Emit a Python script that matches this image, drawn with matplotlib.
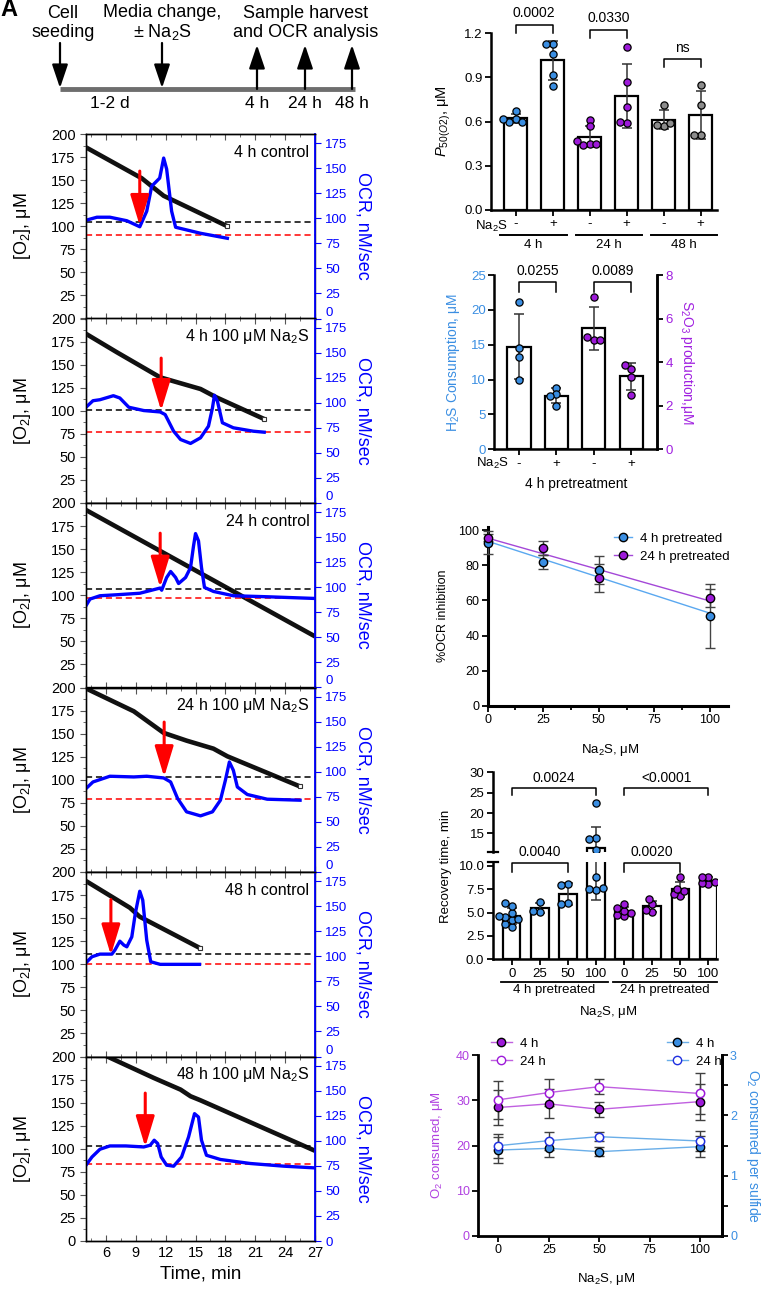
import numpy as np
import matplotlib.pyplot as plt
from matplotlib.lines import Line2D

plt.rcParams['font.family'] = ['Liberation Sans', 'DejaVu Sans']
plt.rcParams['mathtext.fontset'] = 'custom'
plt.rcParams['mathtext.rm'] = 'Liberation Sans'
plt.rcParams['mathtext.it'] = 'Liberation Sans:italic'
plt.rcParams['mathtext.default'] = 'regular'

W, H = 770, 1291
BLUE = '#3a8ee2'
PURPLE = '#9d1ad9'
GREY = '#8c8c8c'

# ---------------- left column: O2 / OCR traces ----------------
# time (min), [O2] (uM) and OCR (nM/sec)
c4_o2_t = [4, 9.6, 11.8, 18.2]
c4_o2 = [185.5, 152, 133, 100]
c4_ocr_t = [4, 5.1, 6.4, 8.1, 9.4, 10.1, 10.6, 10.9, 11.4, 11.8, 12.1, 12.6, 13.0, 15.5, 18.2]
c4_ocr = [98, 101, 101, 97.5, 91.5, 107, 132, 135, 140, 160, 149, 107, 91, 85, 80]

n4_o2_t = [4, 7.1, 11.45, 15.5, 17.1, 21.9]
n4_o2 = [183.4, 163.4, 136.2, 123.6, 114.5, 91]
n4_ocr_t = [4, 4.7, 5.4, 6.75, 7.4, 8.3, 9.8, 11.45, 11.95, 12.8, 13.5, 14.5, 15.5, 16.3,
            16.7, 16.9, 17.2, 17.7, 18.8, 20.8, 21.9]
n4_ocr = [95.5, 102, 103, 107, 104.7, 95.5, 92.2, 90.8, 88.2, 71.6, 63.3, 59.4, 65, 76.6,
          94.8, 107.4, 101.5, 80, 75, 71.6, 70.6]

c24_o2_t = [4, 27]
c24_o2 = [192.4, 55.4]
c24_ocr_t = [4, 4.4, 5.4, 7.1, 9.4, 11.45, 11.6, 12.1, 12.5, 13.0, 13.3, 14.0, 14.5, 14.8,
             15.0, 15.3, 15.6, 15.9, 16.8, 18.8, 22.2, 27]
c24_ocr = [81.6, 88.2, 91.5, 92.5, 94, 99.2, 97, 109.7, 115.7, 109.7, 103.7, 109.7, 119.6, 141.2,
           153.5, 146.2, 119.6, 99.8, 95.8, 91.5, 90.5, 88.8]

n24_o2_t = [4, 8.8, 11.8, 14.1, 16.8, 18.2, 25.5]
n24_o2 = [199, 174.2, 150.8, 142.4, 133.7, 125.4, 92.7]
n24_ocr_t = [4, 4.7, 6.4, 8.8, 10.1, 11.8, 12.5, 13.2, 14.1, 15.5, 16.7, 17.5, 18.0, 18.4,
             18.8, 19.2, 20.2, 22.2, 25.5]
n24_ocr = [83.2, 89.8, 95.5, 94.8, 95.5, 93.8, 89.8, 73.3, 60, 56, 60, 71.6, 91.5, 109.7,
           101.4, 84.8, 77.3, 72.6, 71.6]

c48_o2_t = [4, 8.4, 9.4, 15.4]
c48_o2 = [190.2, 161.3, 151.5, 117.8]
c48_ocr_t = [4, 4.6, 5.4, 6.6, 6.9, 7.4, 7.8, 8.1, 8.6, 8.95, 9.4, 9.7, 10.1, 10.5, 11.45, 15.4]
c48_ocr = [93.5, 99.5, 102.1, 102.1, 106.1, 115, 111.1, 109.4, 119.3, 142.6, 164.8, 155.9,
           116, 94.5, 91.9, 91.9]

n48_o2_t = [4, 6.1, 10.8, 13.5, 14.5, 15.5, 27]
n48_o2 = [210.8, 200.2, 176.8, 164.1, 156.9, 152.5, 97.8]
n48_ocr_t = [4, 4.6, 5.4, 6.4, 8.0, 9.8, 10.45, 10.85, 11.2, 11.55, 12.1, 12.8, 13.6, 14.3,
             14.9, 15.3, 15.6, 16.1, 17.5, 20.5, 23.9, 27]
n48_ocr = [75.6, 83.8, 91.5, 94.8, 94.8, 93.8, 95.5, 100.5, 97.2, 83.8, 75.6, 74.6, 83.8, 103.7,
           127, 123.6, 100.5, 85.5, 81.3, 77.3, 74.6, 72.9]

trace_labels = ['4 h control', '4 h 100 μM Na$_2$S', '24 h control',
                '24 h 100 μM Na$_2$S', '48 h control', '48 h 100 μM Na$_2$S']
baseline_ocr = [96.5, 92.8, 98.5, 94.8, 102.1, 95.2]
final_ocr = [83.2, 70.9, 88.8, 72.9, 92.2, 76.6]
inject_t = [9.4, 11.55, 11.45, 11.85, 6.5, 9.95]
inject_top = [147, 144.5, 153.9, 149.5, 156.5, 147.5]
inject_tip = [92.5, 92, 99.8, 94.8, 101.1, 93.8]
o2_end_marker = [True, True, False, True, True, False]

# ---------------- B: P50 ----------------
p50_groups = ['4 h', '24 h', '48 h']
p50_signs = ['-', '+', '-', '+', '-', '+']
p50_vals = [[0.67, 0.62, 0.60, 0.60, 0.62],
            [1.13, 1.13, 1.06, 0.92, 0.84],
            [0.61, 0.57, 0.45, 0.44, 0.45, 0.47],
            [1.11, 0.87, 0.70, 0.59, 0.60],
            [0.71, 0.57, 0.58, 0.59],
            [0.85, 0.71, 0.51, 0.51]]
p50_p = ['0.0002', '0.0330', 'ns']

# ---------------- C: H2S consumption / thiosulfate ----------------
h2s_vals = [[21.1, 14.6, 13.3, 9.9], [8.8, 7.9, 7.7, 6.2]]
s2o3_vals = [[7.0, 5.02, 5.14, 5.02], [3.70, 3.87, 3.33, 2.49]]
c_signs = ['-', '+', '-', '+']
c_p = ['0.0255', '0.0089']

# ---------------- D: %OCR inhibition ----------------
inh_x = [0, 25, 50, 100]
inh_4h = [92.8, 81.8, 77.3, 51.1]
inh_4h_sd = [6.6, 4.0, 8.0, 18.3]
inh_24h = [95.6, 89.6, 72.5, 61.4]
inh_24h_sd = [2.0, 4.0, 8.0, 5.0]

# ---------------- E: recovery time ----------------
rec_ticks = ['0', '25', '50', '100', '0', '25', '50', '100']
rec_vals = [[3.5, 3.8, 4.2, 4.3, 4.5, 4.6, 5.0, 5.7, 6.0],
            [5.1, 6.1, 5.2],
            [8.0, 7.9, 6.0, 5.9],
            [22.4, 13.9, 13.6, 10.9, 8.8, 7.4, 7.5, 7.6],
            [4.6, 4.7, 4.9, 5.2, 5.5, 5.9],
            [5.1, 5.3, 5.9, 6.4],
            [6.8, 7.0, 7.3, 7.5, 8.8],
            [8.0, 8.2, 8.3, 8.8, 8.8]]
rec_groups = ['4 h pretreated', '24 h pretreated']
rec_p_top = ['0.0024', '<0.0001']
rec_p_low = ['0.0040', '0.0020']

# ---------------- F: O2 consumed ----------------
o2c_x = [0, 25, 50, 100]
o2c_4h = [28.4, 29.2, 28.0, 29.7]
o2c_4h_sd = [3.9, 3.2, 1.6, 4.0]
o2c_24h = [30.1, 31.7, 33.0, 31.5]
o2c_24h_sd = [4.2, 2.9, 1.6, 4.6]
per_s_4h = [1.425, 1.453, 1.398, 1.481]
per_s_4h_sd = [0.21, 0.14, 0.07, 0.17]
per_s_24h = [1.497, 1.58, 1.646, 1.575]
per_s_24h_sd = [0.20, 0.15, 0.07, 0.17]

fig = plt.figure(figsize=(W / 100, H / 100), dpi=100)
ov = fig.add_axes([0, 0, 1, 1], zorder=20)
ov.set_xlim(0, W)
ov.set_ylim(H, 0)
ov.axis('off')
ov.patch.set_alpha(0)


def box(x0, y0, x1, y1, **kw):
    return fig.add_axes([x0 / W, 1 - y1 / H, (x1 - x0) / W, (y1 - y0) / H], **kw)


# ---- A: timeline ----
ov.plot([60, 355], [89, 89], color='#6e6e6e', lw=3.5, solid_capstyle='butt')
astyle = dict(arrowstyle='-|>,head_length=0.8,head_width=0.27', lw=1.6, color='k',
              mutation_scale=18, shrinkA=0, shrinkB=0)
for x in (60, 162):
    ov.annotate('', xy=(x, 88), xytext=(x, 43), arrowprops=astyle)
for x in (257, 305, 352):
    ov.annotate('', xy=(x, 45), xytext=(x, 89), arrowprops=astyle)
ov.text(63, 23, 'Cell\nseeding', ha='center', va='center', fontsize=13, linespacing=1.1)
ov.text(162, 23, 'Media change,\n± Na$_2$S', ha='center', va='center', fontsize=13, linespacing=1.1)
ov.text(306, 23, 'Sample harvest\nand OCR analysis', ha='center', va='center', fontsize=13,
        linespacing=1.1)
for x, s in zip((110, 257, 305, 352), ('1-2 d', '4 h', '24 h', '48 h')):
    ov.text(x, 104, s, ha='center', va='center', fontsize=12.5)
ov.text(9, 9, 'A', ha='center', va='center', fontsize=17, fontweight='heavy')

# ---- left traces ----
traces = [(c4_o2_t, c4_o2, c4_ocr_t, c4_ocr), (n4_o2_t, n4_o2, n4_ocr_t, n4_ocr),
          (c24_o2_t, c24_o2, c24_ocr_t, c24_ocr), (n24_o2_t, n24_o2, n24_ocr_t, n24_ocr),
          (c48_o2_t, c48_o2, c48_ocr_t, c48_ocr), (n48_o2_t, n48_o2, n48_ocr_t, n48_ocr)]
ph = 184.5
for i, (ot, ov2, ct, cv) in enumerate(traces):
    top = 134 + i * ph
    ax = box(86, top, 315, top + ph)
    ax2 = ax.twinx()
    ax.set_xlim(4, 27)
    ax.set_ylim(0, 200)
    ax2.set_ylim(0, 184)
    ax.plot(ot, ov2, color='#111111', lw=3.3, solid_joinstyle='round', solid_capstyle='butt')
    if o2_end_marker[i]:
        ax.plot(ot[-1], ov2[-1], 's', ms=3, mfc='white', mec='#333333', mew=0.8)
    ax2.axhline(baseline_ocr[i], color='black', ls=(0, (4, 2.5)), lw=1.1)
    ax2.axhline(final_ocr[i], color='red', ls=(0, (4, 2.5)), lw=1.1)
    ax2.plot(ct, cv, color='#0000ff', lw=2.4, solid_joinstyle='round')
    ax2.annotate('', xy=(inject_t[i], inject_tip[i]), xytext=(inject_t[i], inject_top[i]),
                 arrowprops=dict(arrowstyle='-|>,head_length=1.25,head_width=0.38', color='red',
                                 lw=2.2, mutation_scale=15, shrinkA=0, shrinkB=0))
    ax.text(0.975, 0.9, trace_labels[i], transform=ax.transAxes, ha='right', va='center',
            fontsize=11.5)
    ax.set_yticks(np.arange(0, 201, 25))
    ax.set_yticks(np.arange(12.5, 200, 25), minor=True)
    ylabs = [str(v) for v in range(0, 201, 25)]
    if i < 5:
        ylabs[0] = ''
    ax.set_yticklabels(ylabs)
    ax.set_xticks(np.arange(6, 28, 3))
    ax.set_xticks(np.arange(4.5, 27, 3), minor=True)
    ax.tick_params(axis='x', which='both', top=True, direction='in', labelbottom=(i == 5),
                   labelsize=10.5, color='#555555')
    ax.tick_params(axis='x', which='major', length=4)
    ax.tick_params(axis='x', which='minor', length=2.5)
    ax.tick_params(axis='y', which='major', length=4, labelsize=10.5, color='#555555')
    ax.tick_params(axis='y', which='minor', length=2, color='#555555')
    ax2.set_yticks(np.arange(0, 176, 25))
    ax2.tick_params(axis='y', colors='#0000ff', labelsize=9.5, length=4)
    if i < 5:
        # the "0" of each stacked panel sits just above the next panel's 175
        ax2.yaxis.get_major_ticks()[0].label2.set_verticalalignment('bottom')
    ax2.spines['right'].set_color('#0000ff')
    for a in (ax, ax2):
        for s in a.spines.values():
            s.set_linewidth(1.0)
    ax2.spines['right'].set_linewidth(1.3)
    ax.spines['left'].set_color('#555555')
    ax.set_ylabel('[O$_2$], μM', fontsize=13)
    ax.yaxis.set_label_coords((33 - 86) / 229, 0.5)
    ax2.set_ylabel('OCR, nM/sec', fontsize=13, color='#0000ff', rotation=270, va='center')
    ax2.yaxis.set_label_coords((363 - 86) / 229, 0.5)
    if i == 5:
        ax.set_xlabel('Time, min', fontsize=13.5, labelpad=4)


# ---------------- helpers for right column ----------------
def style_ax(ax, lw=1.8, size=9.5):
    for s in ('top', 'right'):
        ax.spines[s].set_visible(False)
    for s in ('left', 'bottom'):
        ax.spines[s].set_linewidth(lw)
    ax.tick_params(width=1.3, length=4, labelsize=size, pad=2)


def swarm(ax_of, xc, vals, d=6.6):
    base = ax_of(vals[0])
    cx = base.transData.transform((xc, 0))[0]
    pts, xs = [], []
    for v in vals:
        cy = ax_of(v).transData.transform((xc, v))[1]
        x = cx
        for k in [0, -1, 1, -2, 2, -3, 3, -4, 4]:
            x = cx + k * d * 0.5
            if all((x - px) ** 2 + (cy - py) ** 2 >= (0.85 * d) ** 2 for px, py in pts):
                break
        pts.append((x, cy))
        xs.append(base.transData.inverted().transform((x, cy))[0])
    return xs


def bar_group(ax, x, vals, color, ax_of=None, width=0.62):
    m = np.mean(vals)
    sd = np.std(vals, ddof=1)
    axes = [ax] if ax_of is None else ax_of('all')
    for a in axes:
        a.bar(x, m, width=width, color='white', edgecolor='black', lw=1.6, zorder=2)
        a.errorbar(x, m, yerr=sd, fmt='none', ecolor='#333333', elinewidth=1.1, capsize=3.5,
                   capthick=1.1, zorder=3)
    f = (lambda v: ax) if ax_of is None else ax_of
    xs = swarm(f, x, vals)
    for xx, v in zip(xs, vals):
        f(v).plot(xx, v, 'o', ms=5.2, mfc=color, mec='black', mew=0.9, zorder=4)


def bracket(ax, x0, x1, y, h, text, ty, size=10):
    ax.plot([x0, x0, x1, x1], [y - h, y, y, y - h], color='black', lw=1.1, clip_on=False)
    ax.text((x0 + x1) / 2, ty, text, ha='center', va='center', fontsize=size, clip_on=False)


# ---- B: P50 ----
axB = box(491, 33.3, 717, 210)
style_ax(axB)
axB.set_xlim(-0.67, 5.44)
axB.set_ylim(0, 1.2)
p50_colors = [BLUE, BLUE, PURPLE, PURPLE, GREY, GREY]
for k, vals in enumerate(p50_vals):
    bar_group(axB, k, vals, p50_colors[k])
axB.set_yticks([0, 0.3, 0.6, 0.9, 1.2])
axB.set_yticklabels(['0.0', '0.3', '0.6', '0.9', '1.2'])
axB.set_xticks(range(6))
axB.set_xticklabels(p50_signs, fontsize=9.5)
axB.set_ylabel('$\\it{P}_{50(O2)}$, μM', fontsize=10.5)
axB.yaxis.set_label_coords((453 - 491) / 226, 0.5)
bracket(axB, 0, 1, 1.256, 0.056, p50_p[0], 1.336)
bracket(axB, 2, 3, 1.223, 0.053, p50_p[1], 1.302)
bracket(axB, 4, 5, 1.024, 0.05, p50_p[2], 1.098)
ov.text(508, 226, 'Na$_2$S', ha='right', va='center', fontsize=9.5)
for (x0, x1), g in zip([(500, 567), (576, 642), (651, 717)], p50_groups):
    ov.plot([x0, x1], [235, 235], color='black', lw=1.4)
    ov.text((x0 + x1) / 2, 245, g, ha='center', va='center', fontsize=9.5)

# ---- C: H2S consumption / S2O3 production ----
axC = box(494, 275, 657.3, 449.3)
axC2 = axC.twinx()
style_ax(axC)
axC.spines['right'].set_visible(True)
axC.spines['right'].set_linewidth(1.8)
for s in ('top', 'left', 'bottom'):
    axC2.spines[s].set_visible(False)
axC2.spines['right'].set_linewidth(1.8)
axC.set_xlim(-0.67, 3.70)
axC.set_ylim(0, 25)
axC2.set_ylim(0, 8)
bar_group(axC, 0, h2s_vals[0], BLUE)
bar_group(axC, 1, h2s_vals[1], BLUE)
bar_group(axC2, 2, s2o3_vals[0], PURPLE)
bar_group(axC2, 3, s2o3_vals[1], PURPLE)
axC.set_yticks(range(0, 26, 5))
axC.tick_params(axis='y', labelcolor=BLUE)
axC2.set_yticks(range(0, 9, 2))
axC2.tick_params(axis='y', labelcolor='#a020e0', width=1.3, length=4, labelsize=9.5, pad=2)
axC.set_xticks(range(4))
axC.set_xticklabels(c_signs, fontsize=9.5)
axC.set_ylabel('H$_2$S Consumption, μM', fontsize=10, color=BLUE)
axC.yaxis.set_label_coords((462 - 494) / 163.3, 0.5)
axC2.set_ylabel('S$_2$O$_3$ production,μM', fontsize=10, color='#a020e0', rotation=270,
                va='center')
axC2.yaxis.set_label_coords((687 - 494) / 163.3, 0.5)
bracket(axC, 0, 1, 24.04, 1.44, c_p[0], 25.6)
bracket(axC, 2, 3, 24.04, 1.44, c_p[1], 25.6)
ov.text(509, 463.5, 'Na$_2$S', ha='right', va='center', fontsize=9.5)
ov.text(576, 484, '4 h pretreatment', ha='center', va='center', fontsize=10)

# ---- D: %OCR inhibition ----
axD = box(487.7, 526.5, 728.3, 706)
style_ax(axD, lw=2.2, size=9)
axD.set_xlim(0, 108.3)
axD.set_ylim(0, 102)
axD.set_yticks(range(0, 101, 20))
axD.set_xticks([0, 25, 50, 75, 100])
axD.set_xticks([12.5, 37.5, 62.5, 87.5], minor=True)
axD.tick_params(which='minor', length=3, width=1.3)
for vals, sd, col, lc in [(inh_4h, inh_4h_sd, BLUE, '#5aa8f0'),
                          (inh_24h, inh_24h_sd, PURPLE, '#a448d8')]:
    k, b = np.polyfit(inh_x, vals, 1)
    xx = np.array([inh_x[0], inh_x[-1]])
    axD.plot(xx, k * xx + b, color=lc, lw=1.0, zorder=2, clip_on=False)
    axD.errorbar(inh_x, vals, yerr=sd, fmt='none', ecolor='#444444', elinewidth=1.0, capsize=3.5,
                 capthick=1.0, zorder=3, clip_on=False)
    axD.plot(inh_x, vals, 'o', ms=6, mfc=col, mec='black', mew=1.0, zorder=4, clip_on=False)
axD.set_ylabel('%OCR inhibition', fontsize=9)
axD.yaxis.set_label_coords((449 - 487.7) / 240.6, 0.5)
axD.set_xlabel('Na$_2$S, μM', fontsize=9.5)
axD.xaxis.set_label_coords((610 - 487.7) / 240.6, -(741.7 - 706) / 179.5)
hD = [Line2D([], [], color='#5aa8f0', lw=1.0, marker='o', ms=6, mfc=BLUE, mec='black'),
      Line2D([], [], color='#a448d8', lw=1.0, marker='o', ms=6, mfc=PURPLE, mec='black')]
fig.legend(hD, ['4 h pretreated', '24 h pretreated'], loc='upper left', frameon=False,
           bbox_to_anchor=(607, 526), bbox_transform=ov.transData, fontsize=9.5,
           handlelength=1.4, handletextpad=0.6, labelspacing=0.45, borderpad=0)

# ---- E: recovery time (broken axis) ----
axEu = box(492.7, 772.3, 716.7, 851.7)
axEl = box(492.7, 861.7, 716.7, 959.3)
for a in (axEu, axEl):
    style_ax(a)
    a.set_xlim(-0.68, 7.3)
axEu.spines['bottom'].set_visible(False)
axEu.set_ylim(10.5, 30)
axEl.set_ylim(0, 10.43)
axEu.set_xticks([])
axEu.set_yticks([15, 20, 25, 30])
axEl.set_yticks([0, 2.5, 5, 7.5, 10])
axEl.set_yticklabels(['0.0', '2.5', '5.0', '7.5', '10.0'])
axEl.set_xticks(range(8))
axEl.set_xticklabels(rec_ticks, fontsize=9.5)


def rec_ax(v):
    if v == 'all':
        return [axEl, axEu]
    return axEu if v > 10.45 else axEl


rec_colors = [BLUE] * 4 + [PURPLE] * 4
for k, vals in enumerate(rec_vals):
    bar_group(axEl, k, vals, rec_colors[k], ax_of=rec_ax)
for y in (851.7, 861.7):
    ov.plot([488, 498], [y, y], color='black', lw=1.6)
bracket(axEu, 0, 3, 26.07, 1.64, rec_p_top[0], 28.5)
bracket(axEu, 4, 7, 26.07, 1.64, rec_p_top[1], 28.5)
bracket(axEl, 0, 2, 10.25, 0.89, rec_p_low[0], 11.5)
bracket(axEl, 4, 6, 10.25, 0.89, rec_p_low[1], 11.5)
axEl.set_ylabel('Recovery time, min', fontsize=9.5)
axEl.yaxis.set_label_coords((452 - 492.7) / 224, (959.3 - 866.7) / 97.6)
for (x0, x1), g in zip([(500.7, 608.3), (612.7, 716.7)], rec_groups):
    ov.plot([x0, x1], [981.7, 981.7], color='black', lw=1.3)
    ov.text((x0 + x1) / 2, 990, g, ha='center', va='center', fontsize=9.5)
ov.text(608, 1012, 'Na$_2$S, μM', ha='center', va='center', fontsize=9.5)

# ---- F: O2 consumed ----
axF = box(478.3, 1055, 721.7, 1236)
axF2 = axF.twinx()
style_ax(axF, lw=2.0, size=9)
axF.spines['right'].set_visible(True)
axF.spines['right'].set_linewidth(2.0)
for s in ('top', 'left', 'bottom'):
    axF2.spines[s].set_visible(False)
axF2.spines['right'].set_linewidth(2.0)
axF.set_xlim(-10, 110.8)
axF.set_ylim(0, 40)
axF2.set_ylim(0, 3)
axF.set_xticks([0, 25, 50, 75, 100])
axF.set_yticks(range(0, 41, 10))
axF.tick_params(axis='y', labelcolor='#b040e0')
axF2.set_yticks([0, 1, 2, 3])
axF2.set_yticks([0.5, 1.5, 2.5], minor=True)
axF2.tick_params(axis='y', which='both', labelcolor=BLUE, width=1.3, labelsize=9, pad=2)
axF2.tick_params(axis='y', which='major', length=4)
axF2.tick_params(axis='y', which='minor', length=4)
ebk = dict(fmt='none', ecolor='#404040', elinewidth=1.0, capsize=3.5, capthick=1.0, zorder=3)
axF.errorbar(o2c_x, o2c_4h, yerr=o2c_4h_sd, **ebk)
axF.errorbar(o2c_x, o2c_24h, yerr=o2c_24h_sd, **ebk)
axF.plot(o2c_x, o2c_4h, '-o', color='#c060e0', lw=1.0, ms=6, mfc=PURPLE, mec='black', zorder=4)
axF.plot(o2c_x, o2c_24h, '-o', color='#c060e0', lw=1.0, ms=6, mfc='white', mec=PURPLE,
         mew=1.1, zorder=4)
axF2.errorbar(o2c_x, per_s_4h, yerr=per_s_4h_sd, **ebk)
axF2.errorbar(o2c_x, per_s_24h, yerr=per_s_24h_sd, **ebk)
axF2.plot(o2c_x, per_s_4h, '-o', color='#6aaee8', lw=1.0, ms=6, mfc=BLUE, mec='black', zorder=4)
axF2.plot(o2c_x, per_s_24h, '-o', color='#6aaee8', lw=1.0, ms=6, mfc='white', mec='#2030e0',
          mew=1.1, zorder=4)
axF.set_ylabel('O$_2$ consumed, μM', fontsize=9.5, color='#b040e0')
axF.yaxis.set_label_coords((445 - 478.3) / 243.4, 0.5)
axF2.set_ylabel('O$_2$ consumed per sulfide', fontsize=10, color=BLUE, rotation=270,
                va='center')
axF2.yaxis.set_label_coords((753 - 478.3) / 243.4, 0.5)
axF.set_xlabel('Na$_2$S, μM', fontsize=9.5)
axF.xaxis.set_label_coords((606 - 478.3) / 243.4, -(1270.7 - 1236) / 181)
hF1 = [Line2D([], [], color='#c060e0', lw=1.0, marker='o', ms=6, mfc=PURPLE, mec='black'),
       Line2D([], [], color='#c060e0', lw=1.0, marker='o', ms=6, mfc='white', mec=PURPLE)]
hF2 = [Line2D([], [], color='#6aaee8', lw=1.0, marker='o', ms=6, mfc=BLUE, mec='black'),
       Line2D([], [], color='#6aaee8', lw=1.0, marker='o', ms=6, mfc='white', mec='#2030e0')]
fig.legend(hF1, ['4 h', '24 h'], loc='upper left', frameon=False, bbox_to_anchor=(484, 1031),
           bbox_transform=ov.transData, fontsize=9.5, handlelength=1.6, handletextpad=0.6,
           labelspacing=0.45, borderpad=0)
fig.legend(hF2, ['4 h', '24 h'], loc='upper left', frameon=False, bbox_to_anchor=(660, 1031),
           bbox_transform=ov.transData, fontsize=9.5, handlelength=1.6, handletextpad=0.6,
           labelspacing=0.45, borderpad=0)

fig.savefig('out.png', dpi=100)
